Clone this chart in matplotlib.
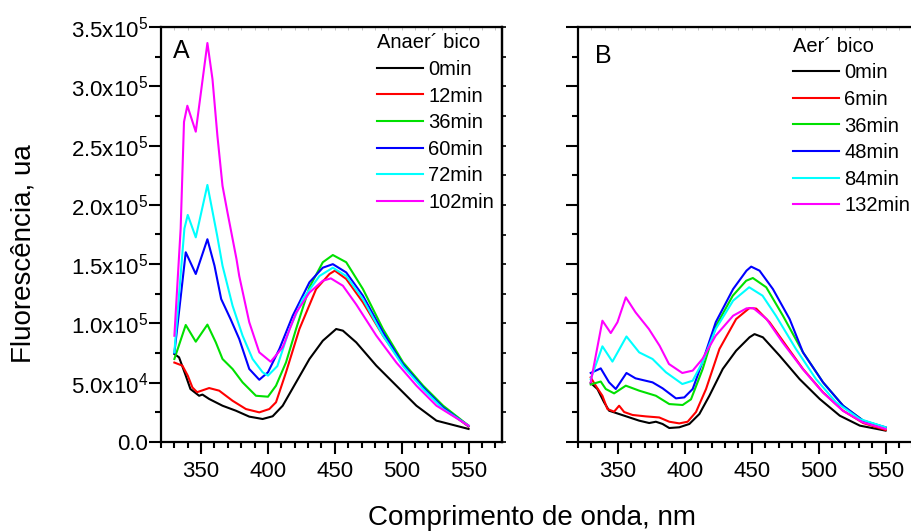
import numpy as np
import matplotlib
matplotlib.use('Agg')
import matplotlib.pyplot as plt
from matplotlib.ticker import MultipleLocator, NullFormatter

plt.rcParams['font.family'] = ['Liberation Sans', 'DejaVu Sans']
plt.rcParams['mathtext.fontset'] = 'custom'
plt.rcParams['mathtext.rm'] = 'Liberation Sans'

# ---- PANEL A: anaerobic (x = wavelength nm, y = fluorescence in 1e3 ua)
a_labels = ['0min', '12min', '36min', '60min', '72min', '102min']
a_x = [
    [330, 333.5, 338.5, 342, 348.5, 351, 356, 366, 376, 386, 396, 403.5, 411, 421, 431,
     441, 451, 456, 466, 481, 496, 511, 526, 550],
    [330, 336, 340, 343.5, 347, 356, 363.5, 373.5, 383.5, 393.5, 401, 406, 413.5, 423.5,
     436, 446, 450, 458.5, 471, 486, 501, 516, 531, 550],
    [330, 338.5, 346, 354.7, 361, 366, 373.5, 381, 391, 400, 406, 413.5, 421, 431, 441,
     448.5, 458.5, 471, 486, 501, 516, 531, 550],
    [330, 338.5, 346, 354.7, 360, 365, 372, 378.5, 386, 393.5, 400, 408.5, 418.5, 431,
     441, 448.5, 458.5, 471, 486, 501, 516, 531, 550],
    [330, 337.5, 340, 346, 354.7, 362, 366, 373.5, 381, 388.5, 396, 400, 407, 416, 426,
     438.5, 448.5, 458.5, 471, 486, 501, 516, 531, 550],
    [330, 334.7, 337.2, 339.7, 346, 354.7, 358.5, 362.2, 366, 369.7, 376.5, 378.5, 386,
     393.5, 402, 411, 421, 431, 441, 447, 456, 466, 481, 496, 511, 526, 550],
]
a_y = [
    [74.2, 71.4, 56, 44.7, 39, 40, 36.3, 30.6, 26.4, 21.4, 19.4, 21.7, 30.6, 50.3, 70,
     85.4, 95.3, 93.9, 84, 64.4, 47.5, 30.6, 18, 11],
    [67, 64.4, 56, 46, 42, 45.5, 43.3, 34.8, 27.8, 25, 27.8, 33.5, 58.8, 95.3, 129,
     141.7, 144.5, 137.5, 117.8, 89.7, 65.4, 46, 29, 13],
    [70, 98.7, 84.6, 99, 84, 70, 61.6, 50.3, 39, 38.2, 47.5, 67.2, 95.3, 130.5, 151.6,
     157.7, 151.6, 129, 95.3, 67.2, 47.5, 30.6, 13.8],
    [75, 160, 141.7, 171, 148.7, 120.6, 103.7, 86.9, 61.6, 52.5, 58.8, 78.4, 106.5,
     134.7, 147, 150, 143, 123.4, 92.5, 65.4, 46, 29, 13.5],
    [75.6, 180, 191.5, 172.6, 216.8, 174, 148.7, 115, 89.7, 70, 58.8, 56, 64, 95, 120.6,
     140, 147, 140, 120.6, 89.7, 64, 44.7, 27.8, 13.8],
    [89.6, 180, 270, 283.6, 261.7, 336.5, 306, 258, 216, 193.7, 154, 140, 101, 75.6,
     67.7, 79.9, 109, 126, 136, 138, 131.8, 116, 89.7, 67, 47.5, 30.6, 13.8],
]

# ---- PANEL B: aerobic
b_labels = ['0min', '6min', '36min', '48min', '84min', '132min']
b_x = [
    [329.5, 334.5, 339.5, 343.25, 350.75, 358.25, 365.75, 373.25, 378.25, 383.25, 388.25,
     395.75, 403.25, 410.75, 418.25, 428.25, 438.25, 448.25, 452, 458.25, 470.75, 485.75,
     500.75, 515.75, 530.75, 550],
    [329.5, 333.25, 338.25, 342, 347, 350.75, 354.5, 360.75, 370.75, 380.75, 388.25,
     395.75, 402, 408.25, 415.75, 425.75, 438.25, 448.25, 453.25, 463.25, 475.75, 488.25,
     503.25, 518.25, 533.25, 550],
    [329.5, 337, 340.75, 347, 355.75, 365.75, 378.25, 388.25, 398.25, 404.5, 413.25,
     423.25, 435.75, 445.75, 450.75, 460.75, 473.25, 488.25, 503.25, 518.25, 533.25, 550],
    [329.5, 337, 343.25, 348.25, 356.25, 363, 375.75, 383.25, 393.25, 399.5, 405.75, 413,
     423, 436, 446, 449.5, 455.75, 465.75, 478.25, 488.25, 503.25, 518.25, 533.25, 550],
    [329.5, 338.25, 345.75, 356.25, 365.75, 375.75, 385.75, 398, 405.75, 413, 423, 436,
     448, 458, 468, 483, 498, 513, 530.75, 550],
    [329.5, 338.25, 344.5, 349.5, 355.75, 363, 373, 381, 388, 398, 405.75, 413, 423, 436,
     446, 451, 461, 473, 488, 503, 518, 533, 550],
]
b_y = [
    [49.8, 44.7, 33.5, 26.4, 23.6, 20.8, 18, 16, 17.1, 15.2, 11.8, 12.4, 15.2, 23.6, 39,
     61.6, 77, 88.3, 91, 88.3, 72.8, 53, 36.3, 22.2, 13.8, 9.6],
    [54.5, 47.5, 39, 27.8, 25.6, 30.6, 25.3, 22.8, 21.6, 20.7, 17.1, 15.7, 17.1, 25.3,
     44.7, 78.4, 103.7, 113, 112.5, 101, 81.2, 61.6, 41.9, 26.4, 16, 10.1],
    [48.5, 51, 44.7, 41, 47.5, 43.3, 39, 32, 31.2, 36, 61.6, 98, 123.4, 136, 138.3, 130.5,
     106.5, 75.6, 50.3, 30.6, 18, 12],
    [58.2, 62.1, 50.3, 44.7, 58.2, 53.7, 50.3, 45.3, 36.8, 37.6, 44.7, 67.2, 101, 129,
     144.5, 147.9, 144.5, 129, 103.7, 75.6, 50.3, 30.6, 18, 12.4],
    [53, 80.7, 67.8, 89, 75.6, 70, 58.8, 48.9, 51.7, 67.2, 95.3, 119.2, 130.5, 123.4,
     106.5, 78.4, 53, 33.5, 19.4, 12.4],
    [50.3, 102.3, 91.9, 101, 122, 109.4, 95.3, 81.2, 65.8, 58.2, 60.2, 70, 89.7, 106.5,
     112.7, 113, 103.7, 84, 61.6, 41.9, 26.4, 16.6, 11],
]

colors = ['#000000', '#ff0000', '#00e000', '#0000ff', '#00ffff', '#ff00ff']

y_ticks = [0, 5e4, 1e5, 1.5e5, 2e5, 2.5e5, 3e5, 3.5e5]
y_ticklabels = ['0.0', r'5.0x10$^{4}$', r'1.0x10$^{5}$', r'1.5x10$^{5}$',
                r'2.0x10$^{5}$', r'2.5x10$^{5}$', r'3.0x10$^{5}$', r'3.5x10$^{5}$']
x_ticks = [350, 400, 450, 500, 550]


def style_axes(ax, show_labels):
    ax.set_xlim(320, 575)
    ax.set_ylim(0, 3.5e5)
    for s in ax.spines.values():
        s.set_linewidth(1.6)
    ax.set_xticks(x_ticks)
    ax.xaxis.set_minor_locator(MultipleLocator(10))
    ax.set_yticks(y_ticks)
    ax.yaxis.set_minor_locator(MultipleLocator(2.5e4))
    if show_labels:
        ax.set_yticklabels(y_ticklabels)
    else:
        ax.set_yticklabels([])
    ax.tick_params(which='major', direction='out', length=8.5, width=1.5, labelsize=16)
    ax.tick_params(which='minor', direction='out', length=4.5, width=1.5)
    ax.tick_params(axis='x', which='major', pad=5)
    ax.tick_params(axis='y', which='major', pad=1)
    # short ticks on the right spine
    sec = ax.secondary_yaxis('right')
    sec.yaxis.set_major_locator(MultipleLocator(2.5e4))
    sec.yaxis.set_major_formatter(NullFormatter())
    sec.tick_params(direction='out', length=3, width=1.2)
    sec.spines['right'].set_linewidth(1.6)
    top = ax.secondary_xaxis('top')
    top.xaxis.set_major_locator(MultipleLocator(10))
    top.xaxis.set_major_formatter(NullFormatter())
    top.tick_params(direction='in', length=2, width=0.6, color='#bbbbbb')


fig = plt.figure(figsize=(9.11, 5.31), dpi=100)
axA = fig.add_axes([161 / 911, 89 / 531, 341 / 911, 415 / 531])
axB = fig.add_axes([578 / 911, 89 / 531, 341 / 911, 415 / 531])

for xs, ys, lab, c in zip(a_x, a_y, a_labels, colors):
    axA.plot(xs, np.array(ys) * 1e3, color=c, lw=1.5, label=lab)
for xs, ys, lab, c in zip(b_x, b_y, b_labels, colors):
    axB.plot(xs, np.array(ys) * 1e3, color=c, lw=1.5, label=lab)

style_axes(axA, True)
style_axes(axB, False)

axA.text(0.035, 0.972, 'A', transform=axA.transAxes, fontsize=18, va='top', ha='left')
axB.text(0.05, 0.96, 'B', transform=axB.transAxes, fontsize=18, va='top', ha='left')

leg_kw = dict(loc='upper left', frameon=False, fontsize=14.5, title_fontsize=14.5,
              alignment='left', handlelength=2.3, handletextpad=0.25,
              labelspacing=0.38, borderpad=0, borderaxespad=0)
axA.legend(title='Anaer\u00b4 bico', bbox_to_anchor=(0.633, 0.985), **leg_kw)
axB.legend(title='Aer\u00b4 bico', bbox_to_anchor=(0.63, 0.977), **leg_kw)

fig.text(532 / 911, 1 - 525 / 531, 'Comprimento de onda, nm', fontsize=20,
         ha='center', va='baseline')
fig.text(24 / 911, 1 - 254 / 531, 'Fluorescência, ua', fontsize=20,
         ha='center', va='center', rotation=90)

fig.savefig('out.png', dpi=100)
